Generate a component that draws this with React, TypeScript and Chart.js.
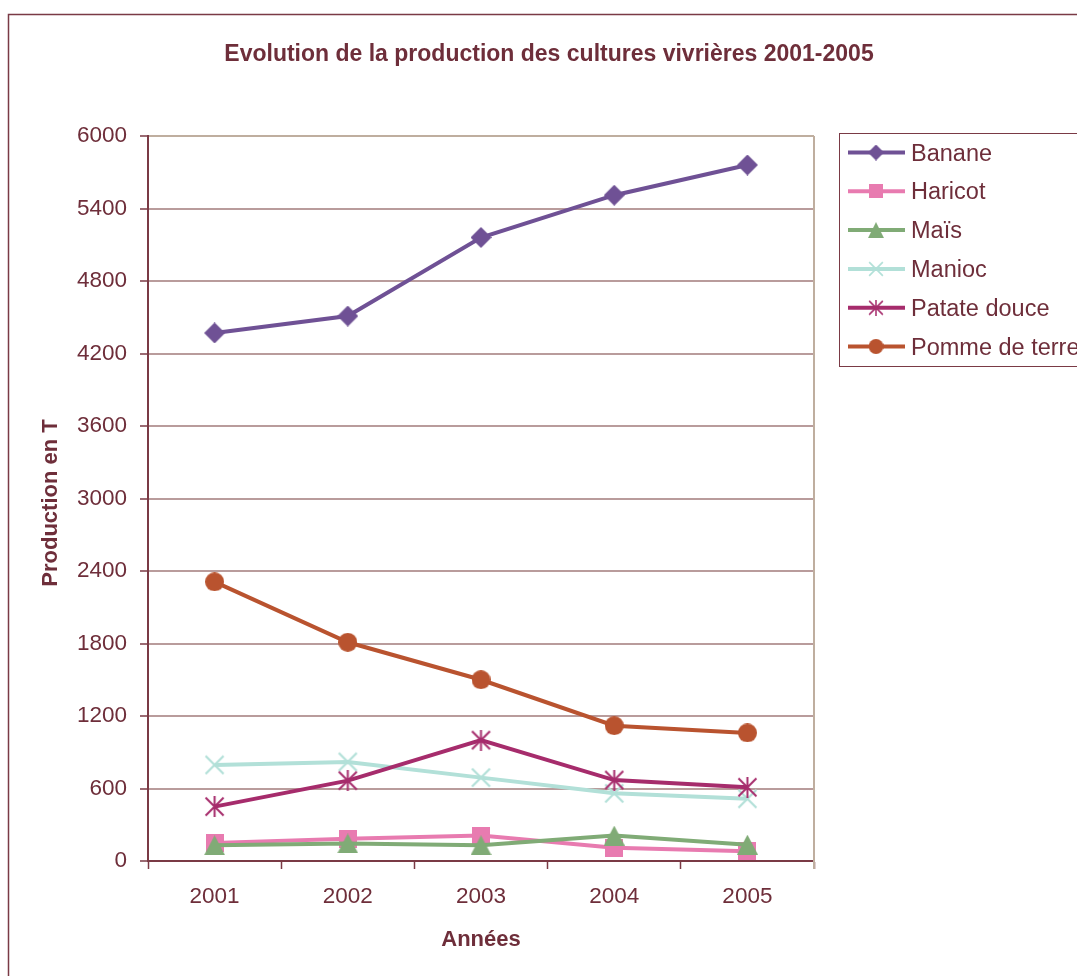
import React, { useEffect, useRef } from "react";
import { Chart, registerables } from "chart.js";

Chart.register(...registerables);

// ---- data ----
const years = ["2001", "2002", "2003", "2004", "2005"];
const banane = [4370, 4510, 5160, 5510, 5760];
const haricot = [150, 185, 210, 110, 80];
const mais = [130, 145, 130, 210, 135];
const manioc = [795, 820, 690, 560, 515];
const patateDouce = [450, 665, 1000, 670, 610];
const pommeDeTerre = [2310, 1810, 1500, 1120, 1060];
const seriesNames = ["Banane", "Haricot", "Maïs", "Manioc", "Patate douce", "Pomme de terre"];
const yMin = 0;
const yMax = 6000;
const yStep = 600;

const chartTitle = "Evolution de la production des cultures vivrières 2001-2005";
const xTitle = "Années";
const yTitle = "Production en T";

// ---- styles ----
const W = 1077;
const H = 976;
const TEXT = "#6E2E3A";
const AXIS = "#7A3A45";
const GRID = "#B99C9C";
const TAN = "#BFAE9F";
const FONT = '"Liberation Sans", Arial, Helvetica, sans-serif';

const colors = ["#6F5195", "#E87BB0", "#80AB76", "#B2E0D8", "#A62C6C", "#B9532F"];
const kinds = ["diamond", "square", "triangle", "x", "star", "circle"];

function makeMarker(kind: string, color: string, s: number): HTMLCanvasElement {
  const dims: Record<string, [number, number]> = {
    diamond: [21, 21],
    square: [18, 18],
    triangle: [21, 20],
    x: [21, 21],
    star: [21, 21],
    circle: [19, 19],
  };
  const [w, h] = dims[kind];
  const c = document.createElement("canvas");
  c.width = Math.round(w * s);
  c.height = Math.round(h * s);
  const ctx = c.getContext("2d")!;
  ctx.scale(c.width / w, c.height / h);
  ctx.fillStyle = color;
  ctx.strokeStyle = color;
  ctx.lineCap = "butt";
  if (kind === "diamond") {
    ctx.beginPath();
    ctx.moveTo(w / 2, 0);
    ctx.lineTo(w, h / 2);
    ctx.lineTo(w / 2, h);
    ctx.lineTo(0, h / 2);
    ctx.closePath();
    ctx.fill();
  } else if (kind === "square") {
    ctx.fillRect(0, 0, w, h);
  } else if (kind === "triangle") {
    ctx.beginPath();
    ctx.moveTo(w / 2, 0);
    ctx.lineTo(w, h);
    ctx.lineTo(0, h);
    ctx.closePath();
    ctx.fill();
  } else if (kind === "x" || kind === "star") {
    ctx.lineWidth = kind === "x" ? 2.2 : 2;
    ctx.beginPath();
    ctx.moveTo(1.5, 1.5);
    ctx.lineTo(w - 1.5, h - 1.5);
    ctx.moveTo(w - 1.5, 1.5);
    ctx.lineTo(1.5, h - 1.5);
    if (kind === "star") {
      ctx.moveTo(w / 2, 0);
      ctx.lineTo(w / 2, h);
    }
    ctx.stroke();
  } else if (kind === "circle") {
    ctx.beginPath();
    ctx.arc(w / 2, h / 2, w / 2, 0, Math.PI * 2);
    ctx.fill();
  }
  return c;
}

export default function App() {
  const ref = useRef<HTMLCanvasElement | null>(null);

  useEffect(() => {
    document.body.style.margin = "0";
    const canvas = ref.current;
    if (!canvas) return;
    const seriesData = [banane, haricot, mais, manioc, patateDouce, pommeDeTerre];
    const n = seriesData.length;
    const markers = kinds.map((k, i) => makeMarker(k, colors[i], 1));
    const legendMarkers = kinds.map((k, i) => makeMarker(k, colors[i], 0.78));

    const deco = {
      id: "deco",
      beforeDraw(chart: any) {
        const ctx = chart.ctx as CanvasRenderingContext2D;
        const area = chart.chartArea;
        ctx.save();
        ctx.fillStyle = "#ffffff";
        ctx.fillRect(0, 0, chart.width, chart.height);
        ctx.strokeStyle = AXIS;
        ctx.lineWidth = 1.5;
        ctx.strokeRect(8.5, 14.5, 1300, 1300);
        ctx.fillStyle = TEXT;
        ctx.textAlign = "center";
        ctx.textBaseline = "alphabetic";
        ctx.font = `bold 23px ${FONT}`;
        ctx.fillText(chartTitle, 549, 61);
        ctx.font = `bold 22px ${FONT}`;
        ctx.fillText(xTitle, (area.left + area.right) / 2, 946);
        ctx.translate(57, 503);
        ctx.rotate(-Math.PI / 2);
        ctx.fillText(yTitle, 0, 0);
        ctx.restore();
      },
      beforeDatasetsDraw(chart: any) {
        const ctx = chart.ctx as CanvasRenderingContext2D;
        const area = chart.chartArea;
        ctx.save();
        ctx.strokeStyle = TAN;
        ctx.lineWidth = 2;
        ctx.beginPath();
        ctx.moveTo(area.right, area.top);
        ctx.lineTo(area.right, area.bottom + 8);
        ctx.stroke();
        ctx.restore();
      },
      afterDraw(chart: any) {
        const ctx = chart.ctx as CanvasRenderingContext2D;
        ctx.save();
        ctx.strokeStyle = AXIS;
        ctx.lineWidth = 1;
        ctx.strokeRect(839.5, 133.5, 400, 233);
        ctx.font = `23.5px ${FONT}`;
        ctx.textAlign = "left";
        ctx.textBaseline = "alphabetic";
        chart.data.datasets.forEach((ds: any, i: number) => {
          const y = 152.5 + i * 38.8;
          ctx.strokeStyle = ds.borderColor;
          ctx.lineWidth = 4;
          ctx.beginPath();
          ctx.moveTo(848, y);
          ctx.lineTo(905, y);
          ctx.stroke();
          const m = legendMarkers[i];
          ctx.drawImage(m, 876 - m.width / 2, y - m.height / 2);
          ctx.fillStyle = TEXT;
          ctx.fillText(ds.label, 911, y + 8);
        });
        ctx.restore();
      },
    };

    const chart = new Chart(canvas, {
      type: "line",
      data: {
        labels: years,
        datasets: seriesData.map((d, i) => ({
          label: seriesNames[i],
          data: d,
          borderColor: colors[i],
          backgroundColor: colors[i],
          borderWidth: 4,
          pointStyle: markers[i] as any,
          pointRadius: 10,
          tension: 0,
          fill: false,
          order: n - i,
        })),
      },
      options: {
        responsive: false,
        animation: false,
        events: [],
        layout: { padding: { left: 0, top: 136, right: W - 814, bottom: 0 }, autoPadding: false },
        plugins: {
          legend: { display: false },
          title: { display: false },
          tooltip: { enabled: false },
        },
        scales: {
          x: {
            type: "category",
            offset: true,
            grid: {
              offset: true,
              drawOnChartArea: false,
              drawTicks: true,
              tickLength: 8,
              tickColor: AXIS,
              tickWidth: 1.5,
              color: AXIS,
            },
            border: { color: AXIS, width: 2 },
            ticks: { color: TEXT, font: { family: FONT, size: 22.5 }, padding: 14, maxRotation: 0 },
            afterFit: (s: any) => {
              s.height = H - 861;
            },
          },
          y: {
            min: yMin,
            max: yMax,
            ticks: {
              stepSize: yStep,
              color: TEXT,
              font: { family: FONT, size: 22.5 },
              padding: 13,
              callback: (v: any) => String(v),
            },
            grid: {
              color: (c: any) => (c.tick && c.tick.value === yMax ? TAN : GRID),
              lineWidth: 2,
              tickLength: 8,
              tickColor: AXIS,
              tickWidth: 1.5,
            },
            border: { color: AXIS, width: 2 },
            afterFit: (s: any) => {
              s.width = 148;
            },
          },
        },
      },
      plugins: [deco],
    });
    return () => chart.destroy();
  }, []);

  return (
    <div style={{ position: "absolute", left: 0, top: 0, width: W, height: H, background: "#fff" }}>
      <canvas ref={ref} width={W} height={H} style={{ display: "block", width: W, height: H }} />
    </div>
  );
}
